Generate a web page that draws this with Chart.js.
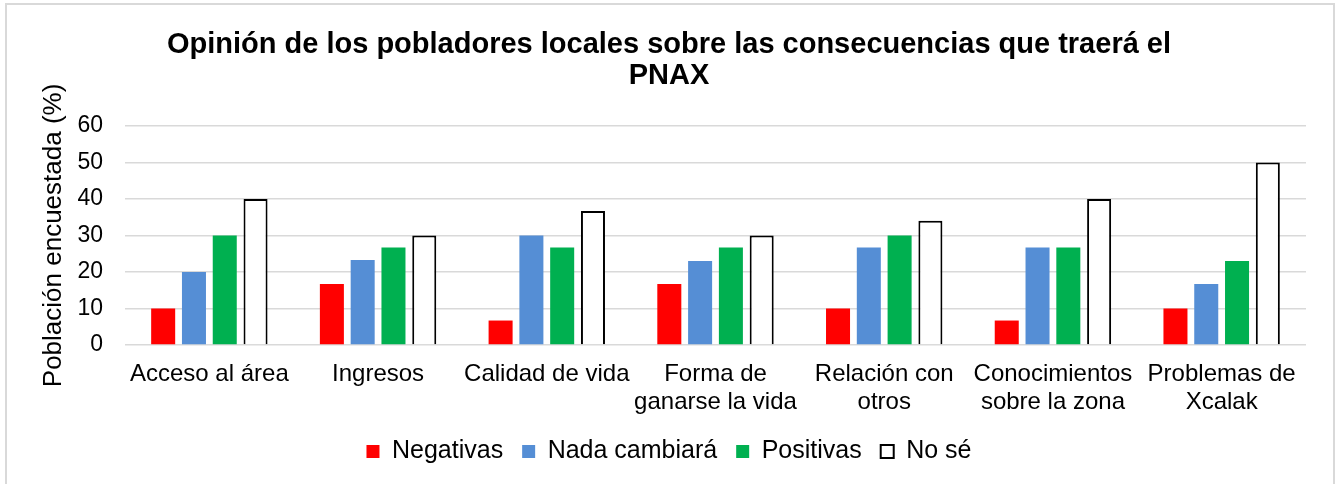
<!DOCTYPE html>
<html>
<head>
<meta charset="utf-8">
<script src="https://cdn.jsdelivr.net/npm/chart.js@4"></script>
<style>
  body { margin: 0; background: #fff; }
  .frame { position: absolute; left: 5px; top: 3px; width: 1326px; height: 500px;
           border: 2px solid #d9d9d9; border-bottom: none; }
  .wrap { position: absolute; left: 0; top: 0; width: 1338px; height: 484px; }
</style>
</head>
<body>
<div class="frame"></div>
<div class="wrap"><canvas id="chart" width="1338" height="484"></canvas></div>
<script>
const categories = [
    "Acceso al área",
    "Ingresos",
    "Calidad de vida",
    ["Forma de", "ganarse la vida"],
    ["Relación con", "otros"],
    ["Conocimientos", "sobre la zona"],
    ["Problemas de", "Xcalak"]
];
const negativas    = [10, 16.7, 6.7, 16.7, 10, 6.7, 10];
const nadaCambiara = [20, 23.3, 30, 23, 26.7, 26.7, 16.7];
const positivas    = [30, 26.7, 26.7, 26.7, 30, 26.7, 23];
const noSe         = [40, 30, 36.7, 30, 34, 40, 50];
const yTicks = [0, 10, 20, 30, 40, 50, 60];

const font = "'Liberation Sans', Arial, sans-serif";

const ctx = document.getElementById("chart").getContext("2d");
new Chart(ctx, {
    type: "bar",
    data: {
        labels: categories,
        datasets: [
            { label: "Negativas", data: negativas, backgroundColor: "#ff0000" },
            { label: "Nada cambiará", data: nadaCambiara, backgroundColor: "#558ed5" },
            { label: "Positivas", data: positivas, backgroundColor: "#00b050" },
            { label: "No sé", data: noSe, backgroundColor: "#ffffff", borderColor: "#000000", borderWidth: 2 }
        ]
    },
    options: {
        responsive: false,
        animation: false,
        categoryPercentage: 0.73,
        barPercentage: 0.78,
        layout: { padding: { bottom: 10 } },
        plugins: {
            title: {
                display: true,
                text: ["Opinión de los pobladores locales sobre las consecuencias que traerá el", "PNAX"],
                color: "#000",
                font: { family: font, size: 29, weight: "bold", lineHeight: 1.05 },
                padding: { top: 30, bottom: 35 }
            },
            legend: {
                position: "bottom",
                labels: {
                    color: "#000",
                    font: { family: font, size: 25 },
                    boxWidth: 13,
                    boxHeight: 13,
                    padding: 19
                }
            },
            tooltip: { enabled: false }
        },
        scales: {
            x: {
                // fixed height so the legend sits just under the two-line labels
                afterFit: s => { s.height = 75; },
                grid: { display: false },
                border: { display: false },
                ticks: {
                    color: "#000",
                    font: { family: font, size: 24, lineHeight: 1.15 },
                    padding: 8,
                    maxRotation: 0,
                    autoSkip: false
                }
            },
            y: {
                min: 0,
                max: 60,
                afterBuildTicks: s => { s.ticks = yTicks.map(v => ({ value: v })); },
                afterFit: s => { s.width = 125; },
                grid: { color: "#d9d9d9", lineWidth: 1.5, drawTicks: false },
                border: { display: false },
                ticks: {
                    color: "#000",
                    font: { family: font, size: 23 },
                    padding: 22
                },
                title: {
                    display: true,
                    text: "Población encuestada (%)",
                    color: "#000",
                    font: { family: font, size: 26 },
                    padding: { top: 38, bottom: 0 }
                }
            },
            right: {
                position: "right",
                display: true,
                grid: { display: false },
                border: { display: false },
                ticks: { display: false },
                afterFit: s => { s.width = 32; }
            }
        }
    }
});
</script>
</body>
</html>
